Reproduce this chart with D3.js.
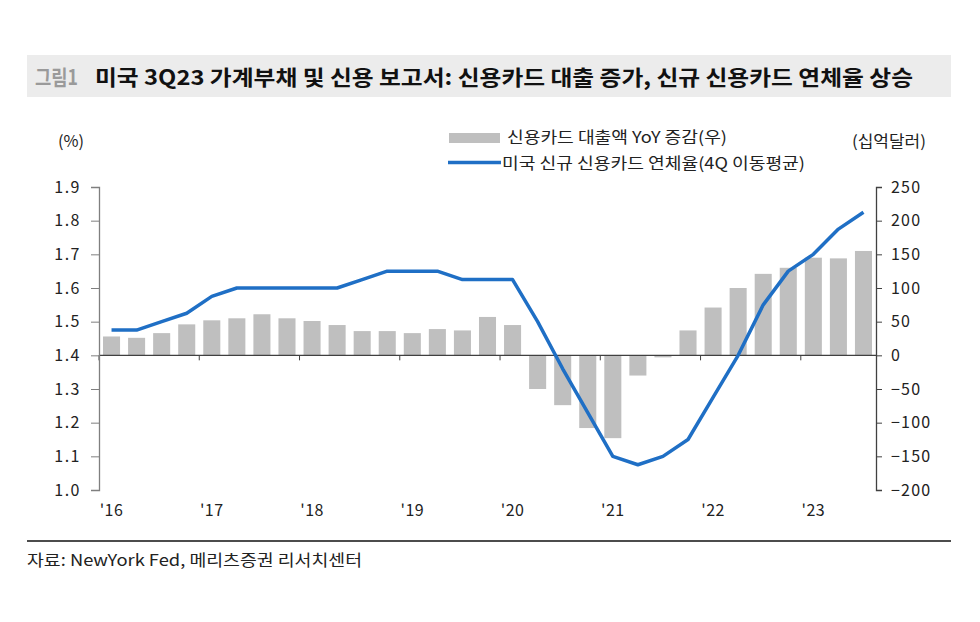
<!DOCTYPE html>
<html><head><meta charset="utf-8">
<script src="https://cdn.jsdelivr.net/npm/d3@7"></script>
<style>body{margin:0;background:#fff;} svg{display:block;}</style>
</head><body>
<svg id="c" width="980" height="622"></svg>
<script>
const quarters = ["16Q1","16Q2","16Q3","16Q4","17Q1","17Q2","17Q3","17Q4","18Q1","18Q2","18Q3","18Q4","19Q1","19Q2","19Q3","19Q4","20Q1","20Q2","20Q3","20Q4","21Q1","21Q2","21Q3","21Q4","22Q1","22Q2","22Q3","22Q4","23Q1","23Q2","23Q3"];
const loanYoY = [28,26,33,46,52,55,61,55,51,45,36,36,33,39,37,57,45,-50,-74,-108,-123,-30,-3,37,71,100,121,130,145,144,155];
const delinquency = [1.475,1.475,1.50,1.525,1.575,1.60,1.60,1.60,1.60,1.60,1.625,1.65,1.65,1.65,1.625,1.625,1.625,1.50,1.36,1.23,1.10,1.075,1.10,1.15,1.275,1.40,1.55,1.65,1.70,1.775,1.825];
const yearLabels = ["'16","'17","'18","'19","'20","'21","'22","'23"];
const yearStartQuarters = ["16Q1","17Q1","18Q1","19Q1","20Q1","21Q1","22Q1","23Q1"];
const leftTicks = [1.0,1.1,1.2,1.3,1.4,1.5,1.6,1.7,1.8,1.9];
const rightTicks = [-200,-150,-100,-50,0,50,100,150,200,250];
const titlePrefix = "그림1";
const titleText = "미국 3Q23 가계부채 및 신용 보고서: 신용카드 대출 증가, 신규 신용카드 연체율 상승";
const legendBar = "신용카드 대출액 YoY 증감(우)";
const legendLine = "미국 신규 신용카드 연체율(4Q 이동평균)";
const leftUnit = "(%)";
const rightUnit = "(십억달러)";
const source = "자료: NewYork Fed, 메리츠증권 리서치센터";

const svg = d3.select("#c");
const FONT = "'Noto Sans CJK KR','Noto Sans',sans-serif";
const L = 99, R = 876, T = 187, B = 490;

function txt(x0, y0, s, size, w, color){
  const t = svg.append("text").attr("x",x0).attr("y",y0).attr("font-family",FONT)
    .attr("font-size",size).attr("fill",color||"#222").text(s);
  if (w) t.attr("textLength",w).attr("lengthAdjust","spacingAndGlyphs");
  return t;
}

// title band
svg.append("rect").attr("x",27).attr("y",55).attr("width",924).attr("height",42).attr("fill","#ececec");
txt(35,85,titlePrefix,21,43,"#9a9a9a").attr("font-weight","bold");
txt(95,85,titleText,21,818,"#111").attr("font-weight","bold");

const x = d3.scaleBand().domain(quarters).range([L,R]).paddingInner(0.32).paddingOuter(0.16);
const yL = d3.scaleLinear().domain([1.0,1.9]).range([B,T]);
const yR = d3.scaleLinear().domain([-200,250]).range([B,T]);
const off = (x.step()-x.bandwidth())/2;

// bars
svg.append("g").selectAll("rect").data(quarters).join("rect")
  .attr("x",d=>x(d)).attr("width",x.bandwidth())
  .attr("y",(d,i)=>yR(Math.max(0,loanYoY[i])))
  .attr("height",(d,i)=>Math.abs(yR(loanYoY[i])-yR(0)))
  .attr("fill","#bfbfbf");

// zero axis
const xAxis = d3.axisBottom(x).tickValues(yearStartQuarters).tickSize(5).tickFormat("");
const gx = svg.append("g").attr("transform",`translate(${-x.bandwidth()/2-off},${yR(0)})`).call(xAxis);
gx.select(".domain").remove();
gx.selectAll(".tick line").attr("stroke","#404040");
svg.append("line").attr("x1",L).attr("x2",R).attr("y1",yR(0)).attr("y2",yR(0)).attr("stroke","#404040").attr("stroke-width",1.2);

// year labels
svg.append("g").selectAll("text").data(yearLabels).join("text")
  .attr("x",(d,i)=>x(yearStartQuarters[i])+x.bandwidth()/2)
  .attr("y",516).attr("text-anchor","middle")
  .attr("font-family",FONT).attr("font-size",16).attr("letter-spacing",0.5).attr("fill","#222").text(d=>d);

// left axis
const gl = svg.append("g").attr("transform",`translate(${L},0)`)
  .call(d3.axisLeft(yL).tickValues(leftTicks).tickSize(8).tickFormat(d3.format(".1f")));
gl.select(".domain").attr("stroke","#7f7f7f").attr("stroke-width",1.3);
gl.selectAll(".tick line").attr("stroke","#7f7f7f");
gl.selectAll("text").attr("font-family",FONT).attr("font-size",16).attr("letter-spacing",1.5).attr("fill","#222").attr("x",-18);

// right axis
const gr = svg.append("g").attr("transform",`translate(${R},0)`)
  .call(d3.axisRight(yR).tickValues(rightTicks).tickSize(6));
gr.select(".domain").attr("stroke","#404040").attr("stroke-width",1.3);
gr.selectAll(".tick line").attr("stroke","#404040");
gr.selectAll("text").attr("font-family",FONT).attr("font-size",16).attr("letter-spacing",1.2).attr("fill","#222").attr("x",15);

// line
const line = d3.line().x((d,i)=>x(quarters[i])+x.bandwidth()/2).y(d=>yL(d));
svg.append("path").datum(delinquency).attr("d",line).attr("fill","none")
  .attr("stroke","#1f6fc5").attr("stroke-width",3.5).attr("stroke-linejoin","round");

// units
txt(58,147,leftUnit,16,26);
txt(852,147,rightUnit,16,74);

// legend
svg.append("rect").attr("x",449).attr("y",133).attr("width",51).attr("height",10).attr("fill","#bfbfbf");
txt(507,143,legendBar,16,220);
svg.append("line").attr("x1",448).attr("x2",501).attr("y1",162.5).attr("y2",162.5).attr("stroke","#1f6fc5").attr("stroke-width",3.5);
txt(502,169,legendLine,16,303);

// footer
svg.append("line").attr("x1",27).attr("x2",951).attr("y1",541).attr("y2",541).attr("stroke","#111").attr("stroke-width",1.3);
txt(27,566,source,16,335);
</script>
</body></html>
